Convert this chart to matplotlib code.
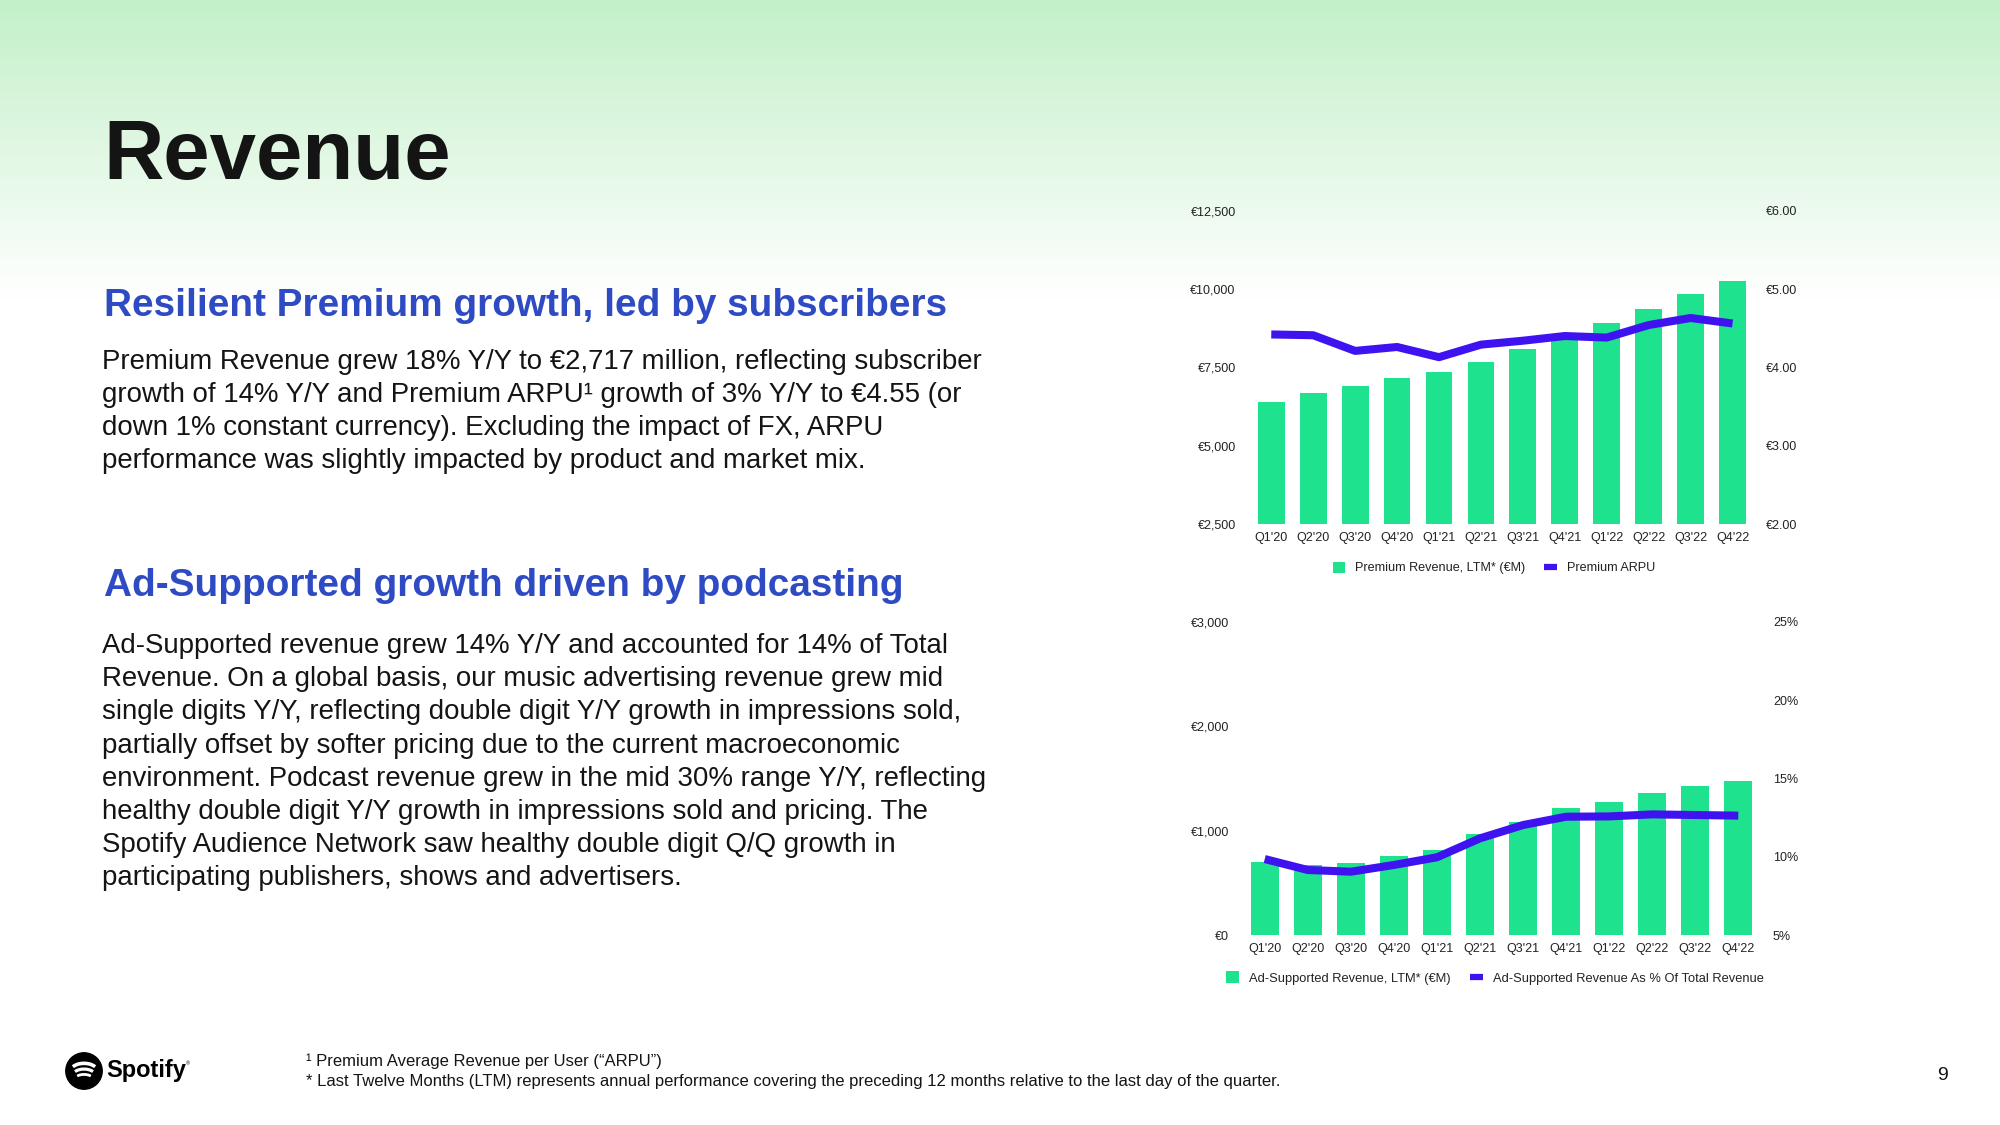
import matplotlib
matplotlib.use("Agg")
import matplotlib.pyplot as plt
import numpy as np
from matplotlib.patches import Patch, Circle, Arc
from matplotlib.lines import Line2D

# ---------------- data ----------------
quarters = ["Q1'20", "Q2'20", "Q3'20", "Q4'20", "Q1'21", "Q2'21",
            "Q3'21", "Q4'21", "Q1'22", "Q2'22", "Q3'22", "Q4'22"]
premium_rev = [6383, 6670, 6894, 7149, 7351, 7670, 8074, 8460, 8915, 9351, 9830, 10245]
premium_arpu = [4.42, 4.41, 4.21, 4.26, 4.13, 4.29, 4.34, 4.40, 4.38, 4.54, 4.63, 4.56]
ad_rev = [696, 667, 686, 753, 811, 964, 1085, 1216, 1274, 1357, 1424, 1475]
ad_pct = [9.85, 9.15, 9.04, 9.47, 9.96, 11.17, 12.02, 12.55, 12.57, 12.70, 12.66, 12.62]

top_left_ticks = [2500, 5000, 7500, 10000, 12500]
top_left_labels = ["€2,500", "€5,000", "€7,500", "€10,000", "€12,500"]
top_right_ticks = [2, 3, 4, 5, 6]
top_right_labels = ["€2.00", "€3.00", "€4.00", "€5.00", "€6.00"]
bot_left_ticks = [0, 1000, 2000, 3000]
bot_left_labels = ["€0", "€1,000", "€2,000", "€3,000"]
bot_right_ticks = [5, 10, 15, 20, 25]
bot_right_labels = ["5%", "10%", "15%", "20%", "25%"]

# ---------------- style ----------------
FONT = "Liberation Sans"
plt.rcParams["font.family"] = [FONT, "DejaVu Sans"]
GREEN = "#1EE28D"
PURPLE = "#3F12F0"
BLUE = "#2E4BC4"
TICK_C = "#222222"

W, H = 2000, 1125
fig = plt.figure(figsize=(20, 11.25), dpi=100)

def fx(x):
    return x / W

def fy(y):
    return 1 - y / H

# background gradient
bg = fig.add_axes([0, 0, 1, 1], zorder=-10)
bg.set_axis_off()
n = 1125
t = np.clip(np.arange(n) / 300.0, 0, 1)[:, None]
top = np.array([195, 240, 200]) / 255.0
white = np.array([1.0, 1.0, 1.0])
grad = top[None, :] * (1 - t) + white[None, :] * t
grad = np.repeat(grad[:, None, :], 2, axis=1)
bg.imshow(grad, aspect="auto", extent=[0, 1, 0, 1], origin="upper")
bg.set_xlim(0, 1)
bg.set_ylim(0, 1)


def make_axes(x0, x1, ytop, ybot):
    ax = fig.add_axes([fx(x0), fy(ybot), fx(x1 - x0), (ybot - ytop) / H])
    ax.patch.set_alpha(0)
    for s in ax.spines.values():
        s.set_visible(False)
    return ax


x = np.arange(len(quarters))

# ---------------- top chart ----------------
ax1 = make_axes(1250.3, 1753.5, 210.7, 524.0)
ax1.bar(x, premium_rev, width=0.64, color=GREEN, zorder=2)
ax1.set_xlim(-0.5, len(quarters) - 0.5)
ax1.set_ylim(2500, 12500)
ax1.set_yticks(top_left_ticks)
ax1.set_yticklabels(top_left_labels)
ax1.set_xticks(x)
ax1.set_xticklabels(quarters)
ax1.tick_params(axis="y", length=0, pad=10.5, labelsize=9, colors=TICK_C)
ax1.tick_params(axis="x", length=0, pad=6, labelsize=9, colors=TICK_C)
ax1r = ax1.twinx()
ax1r.patch.set_alpha(0)
for s in ax1r.spines.values():
    s.set_visible(False)
ax1r.plot(x, premium_arpu, color=PURPLE, lw=5.8, solid_capstyle="butt",
          solid_joinstyle="round", zorder=3)
ax1r.set_ylim(2, 6)
ax1r.set_yticks(top_right_ticks)
ax1r.set_yticklabels(top_right_labels)
ax1r.tick_params(axis="y", length=0, pad=8.7, labelsize=9, colors=TICK_C)

h1 = [Patch(facecolor=GREEN, edgecolor="none"),
      Line2D([0], [0], color=PURPLE, lw=4.5, solid_capstyle="butt")]
fig.legend(h1, ["Premium Revenue, LTM* (€M)", "Premium ARPU"],
           loc="center", bbox_to_anchor=(fx(1494), fy(568)),
           bbox_transform=fig.transFigure, ncol=2, frameon=False,
           fontsize=9.1, handlelength=1.0, handleheight=1.0,
           handletextpad=0.8, columnspacing=1.5, labelcolor=TICK_C)

# ---------------- bottom chart ----------------
ax2 = make_axes(1243.2, 1759.8, 621.7, 935.0)
ax2.bar(x, ad_rev, width=0.65, color=GREEN, zorder=2)
ax2.set_xlim(-0.5, len(quarters) - 0.5)
ax2.set_ylim(0, 3000)
ax2.set_yticks(bot_left_ticks)
ax2.set_yticklabels(bot_left_labels)
ax2.set_xticks(x)
ax2.set_xticklabels(quarters)
ax2.tick_params(axis="y", length=0, pad=10, labelsize=9, colors=TICK_C)
ax2.tick_params(axis="x", length=0, pad=5.5, labelsize=9, colors=TICK_C)
ax2r = ax2.twinx()
ax2r.patch.set_alpha(0)
for s in ax2r.spines.values():
    s.set_visible(False)
ax2r.plot(x, ad_pct, color=PURPLE, lw=5.8, solid_capstyle="butt",
          solid_joinstyle="round", zorder=3)
ax2r.set_ylim(5, 25)
ax2r.set_yticks(bot_right_ticks)
ax2r.set_yticklabels(bot_right_labels)
ax2r.tick_params(axis="y", length=0, pad=9.5, labelsize=9, colors=TICK_C)

h2 = [Patch(facecolor=GREEN, edgecolor="none"),
      Line2D([0], [0], color=PURPLE, lw=4.5, solid_capstyle="butt")]
fig.legend(h2, ["Ad-Supported Revenue, LTM* (€M)",
                "Ad-Supported Revenue As % Of Total Revenue"],
           loc="center", bbox_to_anchor=(fx(1495), fy(978)),
           bbox_transform=fig.transFigure, ncol=2, frameon=False,
           fontsize=9.3, handlelength=1.0, handleheight=1.0,
           handletextpad=0.8, columnspacing=1.5, labelcolor=TICK_C)

# ---------------- texts ----------------
fig.text(fx(103), fy(179), "Revenue", fontsize=60, fontweight="bold",
         color="#141414", va="baseline", ha="left")

fig.text(fx(104), fy(316), "Resilient Premium growth, led by subscribers",
         fontsize=27.9, fontweight="bold", color=BLUE, va="baseline", ha="left")
body1 = [
    "Premium Revenue grew 18% Y/Y to €2,717 million, reflecting subscriber",
    "growth of 14% Y/Y and Premium ARPU¹ growth of 3% Y/Y to €4.55 (or",
    "down 1% constant currency). Excluding the impact of FX, ARPU",
    "performance was slightly impacted by product and market mix.",
]
for i, line in enumerate(body1):
    fig.text(fx(102), fy(368.7 + i * 33.2), line, fontsize=19.9,
             color="#141414", va="baseline", ha="left")

fig.text(fx(104), fy(595.5), "Ad-Supported growth driven by podcasting",
         fontsize=27.9, fontweight="bold", color=BLUE, va="baseline", ha="left")
body2 = [
    "Ad-Supported revenue grew 14% Y/Y and accounted for 14% of Total",
    "Revenue. On a global basis, our music advertising revenue grew mid",
    "single digits Y/Y, reflecting double digit Y/Y growth in impressions sold,",
    "partially offset by softer pricing due to the current macroeconomic",
    "environment. Podcast revenue grew in the mid 30% range Y/Y, reflecting",
    "healthy double digit Y/Y growth in impressions sold and pricing. The",
    "Spotify Audience Network saw healthy double digit Q/Q growth in",
    "participating publishers, shows and advertisers.",
]
for i, line in enumerate(body2):
    fig.text(fx(102), fy(653 + i * 33.2), line, fontsize=19.9,
             color="#141414", va="baseline", ha="left")

fig.text(fx(306), fy(1066), "¹ Premium Average Revenue per User (“ARPU”)",
         fontsize=12, color="#141414", va="baseline", ha="left")
fig.text(fx(306), fy(1086),
         "* Last Twelve Months (LTM) represents annual performance covering the preceding 12 months relative to the last day of the quarter.",
         fontsize=12, color="#141414", va="baseline", ha="left")

fig.text(fx(1943), fy(1076), "9", fontsize=14, color="#141414",
         va="center", ha="center")

# Spotify logo
lg = fig.add_axes([fx(61), fy(1094), fx(46), 46 / H])
lg.set_axis_off()
lg.set_xlim(-1.2, 1.2)
lg.set_ylim(-1.2, 1.2)
lg.set_aspect("equal")
lg.add_patch(Circle((0, 0), 0.95, color="black"))
for (cy, w, hgt, lw) in [(-0.05, 1.45, 0.9, 2.6), (-0.25, 1.2, 0.7, 2.3), (-0.43, 0.95, 0.5, 2.0)]:
    lg.add_patch(Arc((0, cy), w, hgt, theta1=25, theta2=155,
                     color="white", lw=lw))
fig.text(fx(106), fy(1071), "Spotify", fontsize=17, fontweight="bold",
         color="black", va="center", ha="left")
fig.text(fx(186), fy(1064), "®", fontsize=4, color="black",
         va="center", ha="left")

fig.savefig("out.png", dpi=100)
